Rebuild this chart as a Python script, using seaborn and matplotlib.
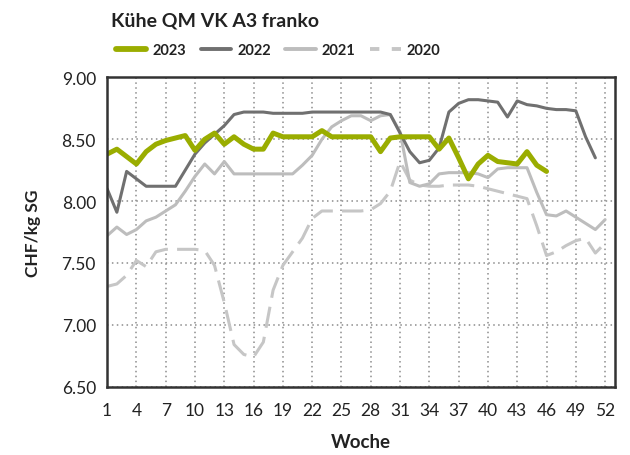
import matplotlib
matplotlib.use('Agg')
import matplotlib.pyplot as plt
from matplotlib.lines import Line2D
import numpy as np
import pandas as pd
import seaborn as sns

nan = np.nan
weeks = list(range(1, 53))

y2023 = [8.38, 8.42, 8.36, 8.30, 8.40, 8.46, 8.49, 8.51, 8.53, 8.41,
         8.50, 8.55, 8.46, 8.52, 8.46, 8.42, 8.42, 8.55, 8.52, 8.52,
         8.52, 8.52, 8.57, 8.52, 8.52, 8.52, 8.52, 8.52, 8.40, 8.51,
         8.52, 8.52, 8.52, 8.52, 8.42, 8.51, 8.35, 8.18, 8.30, 8.37,
         8.32, 8.31, 8.30, 8.40, 8.29, 8.24, nan, nan, nan, nan,
         nan, nan]
y2022 = [8.10, 7.91, 8.24, 8.18, 8.12, 8.12, 8.12, 8.12, 8.25, 8.38,
         8.47, 8.54, 8.61, 8.70, 8.72, 8.72, 8.72, 8.71, 8.71, 8.71,
         8.71, 8.72, 8.72, 8.72, 8.72, 8.72, 8.72, 8.72, 8.72, 8.70,
         8.55, 8.40, 8.31, 8.33, 8.43, 8.72, 8.79, 8.82, 8.82, 8.81,
         8.80, 8.68, 8.81, 8.78, 8.77, 8.75, 8.74, 8.74, 8.73, 8.52,
         8.35, nan]
y2021 = [7.72, 7.79, 7.73, 7.77, 7.84, 7.87, 7.92, 7.97, 8.08, 8.20,
         8.30, 8.22, 8.32, 8.22, 8.22, 8.22, 8.22, 8.22, 8.22, 8.22,
         8.29, 8.37, 8.50, 8.60, 8.65, 8.69, 8.69, 8.65, 8.69, 8.70,
         8.56, 8.15, 8.12, 8.14, 8.22, 8.23, 8.23, 8.23, 8.22, 8.19,
         8.26, 8.27, 8.27, 8.27, 8.07, 7.89, 7.88, 7.92, 7.87, 7.82,
         7.77, 7.85]
y2020 = [7.31, 7.33, 7.40, 7.52, 7.47, 7.59, 7.61, 7.61, 7.61, 7.61,
         7.60, 7.48, 7.18, 6.84, 6.76, 6.74, 6.86, 7.28, 7.48, 7.59,
         7.70, 7.86, 7.92, 7.92, 7.92, 7.92, 7.92, 7.93, 7.98, 8.08,
         8.32, 8.17, 8.13, 8.12, 8.12, 8.13, 8.13, 8.13, 8.12, 8.10,
         8.08, 8.06, 8.04, 8.02, 7.80, 7.56, 7.59, 7.64, 7.68, 7.70,
         7.58, 7.66]

years = ['2023', '2022', '2021', '2020']
colors = {'2023': '#9aad00', '2022': '#707070', '2021': '#bdbdbd', '2020': '#c6c6c6'}
widths = {'2023': 3.6, '2022': 2.2, '2021': 2.2, '2020': 2.2}

df = pd.DataFrame({'Woche': weeks, '2023': y2023, '2022': y2022,
                   '2021': y2021, '2020': y2020})
long_df = df.melt(id_vars='Woche', var_name='Jahr', value_name='CHF').dropna()

sns.set_theme(style='white')
plt.rcParams['font.family'] = ['Lato', 'DejaVu Sans']

fig = plt.figure(figsize=(6.3, 4.56), dpi=100)
ax = fig.add_axes([0.170, 0.150, 0.806, 0.678])

# draw back to front so 2023 sits on top
for yr in ['2020', '2021', '2022', '2023']:
    sub = long_df[long_df['Jahr'] == yr]
    sns.lineplot(data=sub, x='Woche', y='CHF', ax=ax, color=colors[yr],
                 linewidth=widths[yr], legend=False)
    if yr == '2020':
        ax.lines[-1].set_dashes((7, 3))

ax.set_xlim(1, 53)
ax.set_ylim(6.5, 9.0)
ax.set_xticks(list(range(1, 53, 3)))
ax.set_yticks([6.5, 7.0, 7.5, 8.0, 8.5, 9.0])
ax.set_yticklabels([f'{v:.2f}' for v in [6.5, 7.0, 7.5, 8.0, 8.5, 9.0]])
ax.tick_params(axis='both', direction='out', length=5, width=1.5,
               color='#333333', labelsize=12.5, labelcolor='#222222', pad=3)
ax.tick_params(axis='x', pad=6)
ax.grid(True, linestyle=(0, (1, 2.2)), color='#8c8c8c', linewidth=1.1)
for s in ax.spines.values():
    s.set_visible(True)
    s.set_color('#333333')
    s.set_linewidth(1.8)

ax.set_xlabel('Woche', fontsize=13.5, fontweight='bold', color='#222222', labelpad=11)
ax.set_ylabel('CHF/kg SG', fontsize=12.5, fontweight='bold', color='#222222', labelpad=15)

fig.text(0.176, 0.955, 'Kühe QM VK A3 franko', fontsize=14, fontweight='bold',
         color='#222222', va='center', ha='left')

handles = []
for yr in years:
    if yr == '2020':
        h = Line2D([0], [0], color=colors[yr], linewidth=2.8, dashes=(2.4, 3.2))
    else:
        h = Line2D([0], [0], color=colors[yr], linewidth=widths[yr] + 0.6)
    handles.append(h)
leg = fig.legend(handles, years, loc='center left', bbox_to_anchor=(0.163, 0.888),
                 ncol=4, frameon=False, handlelength=2.1, handletextpad=0.4,
                 columnspacing=1.0, prop={'weight': 'bold', 'size': 10.5})
for t in leg.get_texts():
    t.set_color('#222222')

fig.savefig('out.png', dpi=100)
